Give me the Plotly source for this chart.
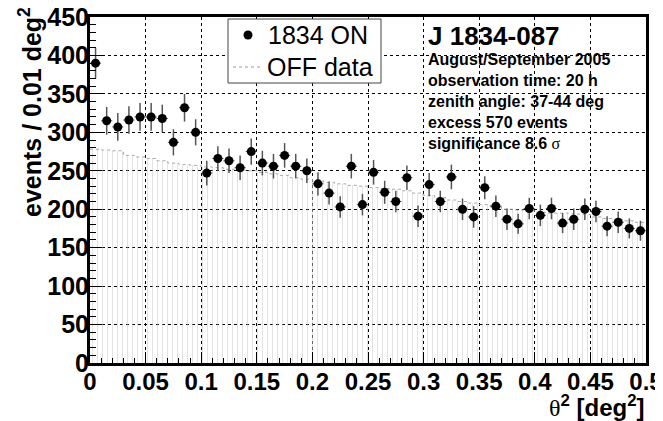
import plotly.graph_objects as go

# ---- data ----
bin_width = 0.01
n_bins = 50
theta2_centers = [round(0.005 + bin_width * i, 3) for i in range(n_bins)]

on_counts = [390, 315, 307, 316, 320, 320, 318, 287, 332, 300,
             247, 266, 263, 254, 275, 260, 256, 270, 256, 250,
             233, 221, 203, 256, 206, 248, 222, 210, 241, 191,
             232, 210, 242, 200, 190, 228, 204, 187, 181, 201,
             192, 201, 182, 187, 200, 197, 178, 183, 175, 172]

on_errors = [20, 18, 18, 18, 18, 18, 18, 17, 18, 17,
             16, 16, 16, 16, 17, 16, 16, 16, 16, 16,
             15, 15, 14, 16, 14, 16, 15, 14, 16, 14,
             15, 14, 16, 14, 14, 15, 14, 14, 13, 14,
             14, 14, 13, 14, 14, 14, 13, 14, 13, 13]

off_counts = [278, 277, 276, 270, 268, 266, 263, 260, 258, 257,
              255, 254, 252, 251, 250, 248, 246, 244, 241, 239,
              237, 235, 233, 231, 230, 228, 227, 226, 224, 221,
              218, 215, 212, 210, 208, 206, 203, 200, 199, 198,
              196, 195, 195, 194, 193, 190, 188, 187, 185, 183]

x_tick_vals = [0, 0.05, 0.1, 0.15, 0.2, 0.25, 0.3, 0.35, 0.4, 0.45, 0.5]
x_tick_text = ["0", "0.05", "0.1", "0.15", "0.2", "0.25", "0.3", "0.35", "0.4", "0.45", "0.5"]
y_tick_vals = [0, 50, 100, 150, 200, 250, 300, 350, 400, 450]

on_name = "1834 ON"
off_name = "OFF data"

info_title = "J 1834-087"
info_lines = ["August/September 2005",
              "observation time: 20 h",
              "zenith angle: 37-44 deg",
              "excess 570 events",
              "significance 8.6 <span style='font-family:Liberation Serif;font-weight:normal'>σ</span>"]

# ---- figure ----
# the page body has an 8px default margin: the figure is drawn 8px in from the window corner
OFF = 8
WIN_W, WIN_H = 663, 421
W, H = WIN_W - OFF, WIN_H - OFF
# plot area in window pixels: x 90..646, y 17..363
L, R, T, B = 90 - OFF, WIN_W - 646, 17 - OFF, WIN_H - 363
pw, ph = W - L - R, H - T - B

def px(xw):
    return (xw - OFF - L) / pw

def py(yw):
    return (H - B - (yw - OFF)) / ph

FONT = "Liberation Sans, Arial, Helvetica, sans-serif"

fig = go.Figure()

# OFF histogram, hatched fill
fig.add_trace(go.Bar(
    x=theta2_centers, y=off_counts, width=bin_width,
    marker=dict(color="rgba(0,0,0,0)", line=dict(width=0),
                pattern=dict(shape="|", fgcolor="#c8c8c8", bgcolor="rgba(0,0,0,0)",
                             size=5, solidity=0.2, fillmode="overlay")),
    showlegend=False, hoverinfo="skip"))

# OFF histogram outline (step)
step_x = [c - bin_width / 2 for c in theta2_centers] + [theta2_centers[-1] + bin_width / 2]
step_y = off_counts + [off_counts[-1]]
fig.add_trace(go.Scatter(
    x=step_x, y=step_y, mode="lines", line=dict(shape="hv", color="#a8a8a8", width=1, dash="dot"),
    name=off_name, showlegend=False))

# ON points
fig.add_trace(go.Scatter(
    x=theta2_centers, y=on_counts, mode="markers",
    marker=dict(color="black", size=9),
    error_y=dict(type="data", array=on_errors, color="#555555", thickness=1.5, width=0),
    error_x=dict(type="constant", value=bin_width / 2, color="#555555", thickness=1, width=0),
    name=on_name, showlegend=False))

axis_common = dict(
    showline=True, linecolor="black", linewidth=3, mirror=True,
    showgrid=True, gridcolor="black", gridwidth=1, griddash="dot",
    ticks="inside", tickcolor="black", tickwidth=1,
    zeroline=False, automargin=False, ticklabeloverflow="allow",
)

fig.update_xaxes(**axis_common, range=[0, 0.5], tickvals=x_tick_vals, ticktext=x_tick_text,
                 ticklen=11, ticklabelstandoff=-5,
                 tickfont=dict(family=FONT, size=24, color="black", weight="bold"),
                 minor=dict(dtick=0.01, tick0=0, ticks="inside", ticklen=5, tickcolor="black",
                            showgrid=False))
fig.update_yaxes(**axis_common, range=[0, 450], tickvals=y_tick_vals,
                 ticklen=12, ticklabelstandoff=-7,
                 tickfont=dict(family=FONT, size=25, color="black", weight="bold"),
                 minor=dict(dtick=10, tick0=0, ticks="inside", ticklen=6, tickcolor="black",
                            showgrid=False))

annotations = [
    dict(text="events / 0.01 deg<sup>2</sup>", textangle=-90, xref="paper", yref="paper",
         x=px(30), y=py(112), xanchor="center", yanchor="middle", showarrow=False,
         font=dict(family=FONT, size=25, color="black", weight="bold")),
    dict(text="<span style='font-family:Liberation Serif;font-weight:normal'>θ</span><sup>2</sup> [deg<sup>2</sup>]",
         xref="paper", yref="paper", x=px(647), y=py(406), xanchor="right", yanchor="middle",
         showarrow=False, font=dict(family=FONT, size=24, color="black", weight="bold")),
    dict(text=info_title, xref="paper", yref="paper", x=px(426), y=py(36),
         xanchor="left", yanchor="middle", showarrow=False,
         font=dict(family=FONT, size=26, color="black", weight="bold")),
    # legend texts
    dict(text=on_name, xref="paper", yref="paper", x=px(266), y=py(35),
         xanchor="left", yanchor="middle", showarrow=False,
         font=dict(family=FONT, size=25, color="black")),
    dict(text=off_name, xref="paper", yref="paper", x=px(265), y=py(67),
         xanchor="left", yanchor="middle", showarrow=False,
         font=dict(family=FONT, size=25, color="black")),
]
line_centers = [59, 80, 101, 122, 143]
for txt, yc in zip(info_lines, line_centers):
    annotations.append(dict(text=txt, xref="paper", yref="paper", x=px(426), y=py(yc),
                            xanchor="left", yanchor="middle", showarrow=False,
                            font=dict(family=FONT, size=16, color="black", weight="bold")))

shapes = [
    # legend box
    dict(type="rect", xref="paper", yref="paper", x0=px(228), x1=px(381), y0=py(83), y1=py(19),
         fillcolor="white", line=dict(color="#444444", width=1), layer="above"),
    # legend marker for ON
    dict(type="circle", xref="paper", yref="paper", xsizemode="pixel", ysizemode="pixel",
         xanchor=px(248), yanchor=py(35), x0=-4.5, x1=4.5, y0=-4.5, y1=4.5,
         fillcolor="black", line=dict(color="black", width=0), layer="above"),
    # legend line for OFF
    dict(type="line", xref="paper", yref="paper", x0=px(233), x1=px(261), y0=py(67), y1=py(67),
         line=dict(color="#9a9a9a", width=1, dash="dot"), layer="above"),
]

fig.update_layout(
    width=W, height=H,
    margin=dict(l=L, r=R, t=T, b=B, autoexpand=False),
    paper_bgcolor="white", plot_bgcolor="white",
    barmode="overlay", bargap=0,
    annotations=annotations,
    shapes=shapes,
    showlegend=False,
)

fig.write_html("out.html")
